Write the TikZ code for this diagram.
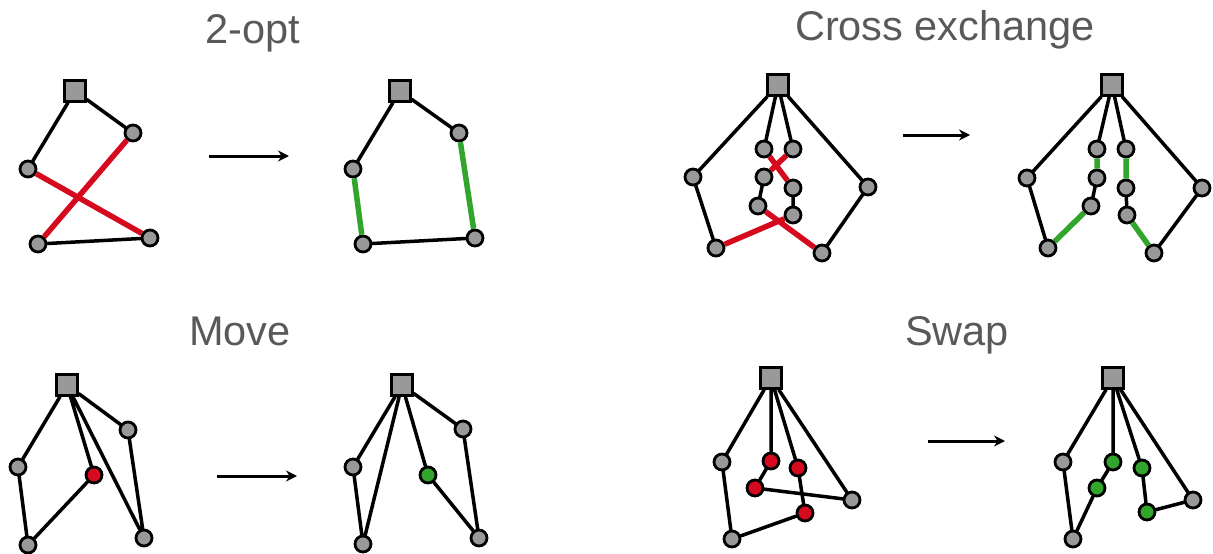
\documentclass[tikz,border=0pt]{standalone}
\usepackage{fontspec}
\setmainfont{Liberation Sans}
\usetikzlibrary{arrows.meta}
\definecolor{titlegray}{RGB}{89,89,89}
\definecolor{stopgray}{RGB}{153,153,153}
\definecolor{oldred}{RGB}{214,10,30}
\definecolor{newgreen}{RGB}{50,165,45}
\tikzset{
  depot/.style={draw=black, line width=2.8pt, fill=stopgray, minimum size=21pt, inner sep=0pt},
  stopnode/.style={circle, draw=black, line width=2.8pt, fill=stopgray, minimum size=16pt, inner sep=0pt},
  redstop/.style={stopnode, fill=oldred},
  greenstop/.style={stopnode, fill=newgreen},
  route/.style={line width=3.5pt, line cap=round},
  oldlink/.style={line width=5.5pt, draw=oldred},
  newlink/.style={line width=5.5pt, draw=newgreen},
  title/.style={font=\fontsize{41.5}{48}\selectfont, text=titlegray, anchor=base},
  goarrow/.style={line width=3pt, -{Stealth[length=11pt, width=11pt]}}
}

\begin{document}
\begin{tikzpicture}[x=1pt, y=-1pt]
  \useasboundingbox (0,0) rectangle (1213,554);

  % titles
  \node[title] (t1) at (253,43) {2-opt};
  \node[title] (t2) at (945,40) {Cross exchange};
  \node[title] (t3) at (240,345) {Move};
  \node[title] (t4) at (957,345) {Swap};

  % 2-opt, before
  \node[depot] (od1) at (75,91) {};
  \node[stopnode] (oa1) at (133,133) {};
  \node[stopnode] (ob1) at (28,169) {};
  \node[stopnode] (oc1) at (38,244) {};
  \node[stopnode] (oe1) at (150,238) {};
  \draw[route] (od1) -- (oa1) (od1) -- (ob1) (oc1) -- (oe1);
  \draw[oldlink] (ob1) -- (oe1) (oa1) -- (oc1);
  % 2-opt, after
  \node[depot] (od2) at (400,91) {};
  \node[stopnode] (oa2) at (459,133) {};
  \node[stopnode] (ob2) at (353,169) {};
  \node[stopnode] (oc2) at (363,244) {};
  \node[stopnode] (oe2) at (475,238) {};
  \draw[route] (od2) -- (oa2) (od2) -- (ob2) (oc2) -- (oe2);
  \draw[newlink] (ob2) -- (oc2) (oa2) -- (oe2);
  \coordinate (os) at (209,156); \coordinate (oz) at (289,156);
  \draw[goarrow] (os) -- (oz);

  % cross exchange, before
  \node[depot] (xd1) at (778,85) {};
  \node[stopnode] (xl1) at (693,177) {};
  \node[stopnode] (xr1) at (868,187) {};
  \node[stopnode] (xp1) at (716,248) {};
  \node[stopnode] (xq1) at (822,253) {};
  \node[stopnode] (xa1) at (764,149) {};
  \node[stopnode] (xb1) at (764,177) {};
  \node[stopnode] (xc1) at (758,206) {};
  \node[stopnode] (xe1) at (793,149) {};
  \node[stopnode] (xf1) at (793,188) {};
  \node[stopnode] (xg1) at (793,215) {};
  \draw[route] (xd1) -- (xl1) (xd1) -- (xa1) (xd1) -- (xe1) (xd1) -- (xr1)
    (xl1) -- (xp1) (xr1) -- (xq1) (xb1) -- (xc1) (xf1) -- (xg1);
  \draw[oldlink] (xa1) -- (xf1) (xe1) -- (xb1) (xc1) -- (xq1) (xp1) -- (xg1);
  % cross exchange, after
  \node[depot] (xd2) at (1112,85) {};
  \node[stopnode] (xl2) at (1027,178) {};
  \node[stopnode] (xr2) at (1202,188) {};
  \node[stopnode] (xp2) at (1048,248) {};
  \node[stopnode] (xq2) at (1154,253) {};
  \node[stopnode] (xa2) at (1097,149) {};
  \node[stopnode] (xb2) at (1097,178) {};
  \node[stopnode] (xc2) at (1091,206) {};
  \node[stopnode] (xe2) at (1126,149) {};
  \node[stopnode] (xf2) at (1126,188) {};
  \node[stopnode] (xg2) at (1127,215) {};
  \draw[route] (xd2) -- (xl2) (xd2) -- (xa2) (xd2) -- (xe2) (xd2) -- (xr2)
    (xl2) -- (xp2) (xr2) -- (xq2) (xb2) -- (xc2) (xf2) -- (xg2);
  \draw[newlink] (xa2) -- (xb2) (xe2) -- (xf2) (xc2) -- (xp2) (xg2) -- (xq2);
  \coordinate (xs) at (903,135); \coordinate (xz) at (970,135);
  \draw[goarrow] (xs) -- (xz);

  % move, before
  \node[depot] (md1) at (67,385) {};
  \node[stopnode] (ma1) at (128,430) {};
  \node[stopnode] (mb1) at (18,467) {};
  \node[redstop] (mm1) at (94,475) {};
  \node[stopnode] (mc1) at (28,545) {};
  \node[stopnode] (me1) at (144,538) {};
  \draw[route] (md1) -- (mb1) (md1) -- (mm1) (md1) -- (ma1) (md1) -- (me1)
    (mb1) -- (mc1) (mc1) -- (mm1) (ma1) -- (me1);
  % move, after
  \node[depot] (md2) at (402,385) {};
  \node[stopnode] (ma2) at (463,429) {};
  \node[stopnode] (mb2) at (353,467) {};
  \node[greenstop] (mm2) at (428,475) {};
  \node[stopnode] (mc2) at (363,544) {};
  \node[stopnode] (me2) at (479,538) {};
  \draw[route] (md2) -- (mb2) (md2) -- (mc2) (md2) -- (mm2) (md2) -- (ma2)
    (mb2) -- (mc2) (mm2) -- (me2) (ma2) -- (me2);
  \coordinate (ms) at (217,476); \coordinate (mz) at (297,476);
  \draw[goarrow] (ms) -- (mz);

  % swap, before
  \node[depot] (sd1) at (771,378) {};
  \node[stopnode] (sl1) at (722,462) {};
  \node[redstop] (sa1) at (771,461) {};
  \node[redstop] (sb1) at (798,468) {};
  \node[redstop] (sc1) at (755,488) {};
  \node[stopnode] (sr1) at (852,500) {};
  \node[redstop] (se1) at (805,513) {};
  \node[stopnode] (sp1) at (732,539) {};
  \draw[route] (sd1) -- (sl1) (sd1) -- (sa1) (sd1) -- (sb1) (sd1) -- (sr1)
    (sl1) -- (sp1) (sa1) -- (sc1) (sc1) -- (sr1) (sb1) -- (se1) (se1) -- (sp1);
  % swap, after
  \node[depot] (sd2) at (1113,378) {};
  \node[stopnode] (sl2) at (1063,462) {};
  \node[greenstop] (sa2) at (1113,462) {};
  \node[greenstop] (sb2) at (1142,468) {};
  \node[greenstop] (sc2) at (1097,488) {};
  \node[stopnode] (sr2) at (1193,500) {};
  \node[greenstop] (se2) at (1147,512) {};
  \node[stopnode] (sp2) at (1073,539) {};
  \draw[route] (sd2) -- (sl2) (sd2) -- (sa2) (sd2) -- (sb2) (sd2) -- (sr2)
    (sl2) -- (sp2) (sa2) -- (sc2) (sc2) -- (sp2) (sb2) -- (se2) (se2) -- (sr2);
  \coordinate (ss) at (928,441); \coordinate (sz) at (1005,441);
  \draw[goarrow] (ss) -- (sz);
\end{tikzpicture}
\end{document}
